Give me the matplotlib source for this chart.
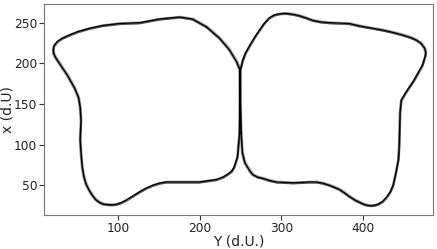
import matplotlib
matplotlib.use("Agg")
import matplotlib.pyplot as plt
from matplotlib.transforms import offset_copy

# traced trajectory: up the shared middle stem, round the left wing,
# back to the stem, round the right wing, back to start
traj_Y = [250.5, 249.5, 249, 245, 236, 224, 208, 191, 175, 150, 126, 101, 80, 64, 50, 40, 31, 25,
          21, 20, 20.5, 23, 27.6, 37, 46, 51, 53, 54, 53.5, 53, 54, 55.5, 57.5, 60, 64, 68,
          72, 76.7, 81, 86.5, 92, 97, 103, 109,
          117, 126, 134, 142, 150, 158.5, 179, 199, 220, 228, 234, 239, 242, 246, 248.5, 249, 249.5,
          252.5, 256, 261, 267, 273, 279, 285, 291, 297.5, 304, 310, 316, 322, 330, 338, 348, 359,
          383, 396, 410, 424, 437, 448.5, 458, 465, 471, 475.5, 477, 476.7, 475.5, 473, 468, 463,
          453, 447, 445.5, 445, 444.5, 443.5, 441, 439, 437, 433.5, 429, 424, 418, 413, 408, 403, 398,
          390, 383, 377, 371, 359, 351, 343, 334, 324, 314, 304, 294, 285, 277, 271, 265, 261,
          255, 252, 250.5]
traj_x = [114, 155, 192, 202, 217, 231, 245, 254.5, 257, 254.5, 250, 249, 246.5, 243, 239, 235, 231, 227,
          222, 217, 212, 207, 200, 186, 170, 158, 146, 130, 118, 106, 90, 72.6, 61, 52, 44, 37.7,
          32.5, 29, 27, 26.2, 26, 26.5, 28.5, 31.5,
          36.5, 42, 46.5, 50, 52.5, 54, 54, 54, 57, 60, 63.6, 67.5, 72.6, 85, 114, 155, 192,
          204, 213, 222, 232, 241, 249.5, 256, 259.5, 261, 261.5, 261, 260, 258.6, 256, 253, 251, 250,
          249, 246, 243.5, 241, 238, 235, 232, 229, 225, 219, 214, 210.5, 206, 198, 189, 180,
          165, 155, 140, 120, 100, 82, 68.5, 59, 50, 42, 35.5, 30, 26.5, 25.2, 25, 26, 28,
          32, 36.5, 41, 45, 50, 52.5, 54, 54, 53.5, 53, 53.5, 54, 56, 58.6, 60, 63, 68,
          78, 90, 114]

fig = plt.figure(figsize=(4.37, 2.49), dpi=100)
ax = fig.add_axes([0.101, 0.137, 0.89, 0.847])

# faint repeated passes around the attractor
for dx, dy, c in [(0.7, 0.6, "#b0b0b0"), (-0.6, -0.6, "#8a8a8a"), (0.4, -0.8, "#555555")]:
    tr = offset_copy(ax.transData, fig=fig, x=dx, y=dy, units="points")
    ax.plot(traj_Y, traj_x, color=c, lw=0.8, transform=tr)
ax.plot(traj_Y, traj_x, color="black", lw=1.0)

ax.set_xlim(8.8, 486)
ax.set_ylim(13.5, 273)
ax.set_xticks([100, 200, 300, 400])
ax.set_yticks([50, 100, 150, 200, 250])
ax.tick_params(labelsize=8.8, colors="#333333", labelcolor="#222222", pad=1.5)
for s in ax.spines.values():
    s.set_color("#777777")
ax.set_xlabel("Y (d.U.)", fontsize=10, color="#222222", labelpad=0)
ax.set_ylabel("x (d.U)", fontsize=10, color="#222222")
ax.yaxis.set_label_coords(-0.075, 0.5)

fig.savefig("out.png", dpi=100)
